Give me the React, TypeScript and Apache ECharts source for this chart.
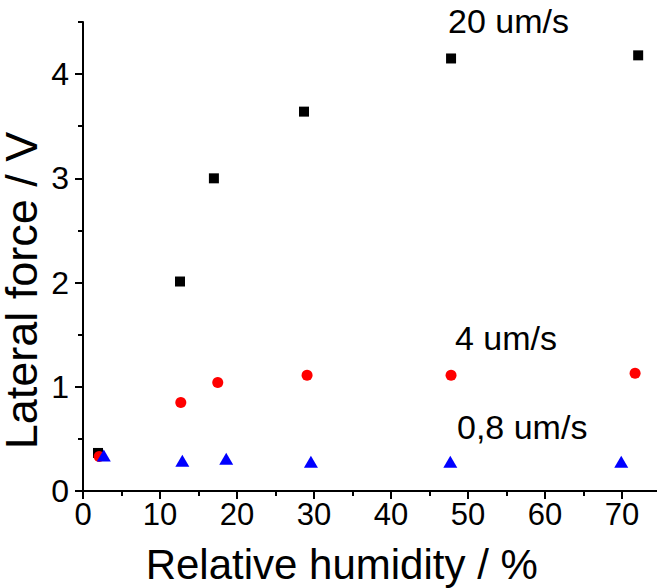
import React, { useEffect, useRef } from "react";
import * as echarts from "echarts";

const speed20X = [1.95, 12.6, 17.0, 28.7, 47.8, 72.1];
const speed20Y = [0.365, 2.01, 3.0, 3.64, 4.15, 4.18];
const speed4X = [2.1, 12.7, 17.5, 29.1, 47.8, 71.7];
const speed4Y = [0.33, 0.85, 1.04, 1.11, 1.11, 1.13];
const speed08X = [2.7, 12.9, 18.6, 29.6, 47.7, 69.9];
const speed08Y = [0.34, 0.29, 0.31, 0.28, 0.28, 0.28];
const seriesNames = ["20 um/s", "4 um/s", "0,8 um/s"];

const FONT = "'Liberation Sans', Arial, sans-serif";

export default function App() {
  const ref = useRef<HTMLDivElement>(null);
  useEffect(() => {
    if (!ref.current) return;
    const chart = echarts.init(ref.current, null, { renderer: "svg" });
    const zip = (xs: number[], ys: number[]) => xs.map((x, i) => [x, ys[i]]);
    const gLeft = 83;
    const gTop = 22;
    const gW = 577.5;
    const gH = 469;
    const majorTop = gTop + gH * (0.5 / 4.5);
    chart.setOption({
      animation: false,
      grid: [
        { left: gLeft, top: gTop, width: gW, height: gH, outerBoundsMode: "none", containLabel: false },
        {
          left: gLeft,
          top: majorTop,
          width: gW,
          height: gTop + gH - majorTop,
          outerBoundsMode: "none",
          containLabel: false,
        },
      ],
      xAxis: [
        {
          type: "value",
          gridIndex: 0,
          min: 0,
          max: 75,
          interval: 10,
          position: "bottom",
          name: "Relative humidity / %",
          nameLocation: "middle",
          nameGap: 52,
          nameTextStyle: { fontSize: 42, color: "#000", fontFamily: FONT, padding: [0, 60, 0, 0] },
          axisLine: { show: true, lineStyle: { color: "#000", width: 2 } },
          axisTick: { show: true, inside: false, length: 8, lineStyle: { color: "#000", width: 2 } },
          axisLabel: {
            fontSize: 31,
            color: "#000",
            fontFamily: FONT,
            margin: 8,
            formatter: (v: number) => (v % 10 === 0 ? String(v) : ""),
          },
          splitLine: { show: false },
        },
        {
          type: "value",
          gridIndex: 0,
          min: 0,
          max: 75,
          interval: 5,
          position: "bottom",
          axisLine: { show: false },
          axisTick: { show: true, inside: false, length: 5, lineStyle: { color: "#000", width: 2 } },
          axisLabel: { show: false },
          splitLine: { show: false },
        },
        { type: "value", gridIndex: 1, min: 0, max: 75, show: false },
      ],
      yAxis: [
        {
          type: "value",
          gridIndex: 0,
          min: 0,
          max: 4.5,
          interval: 0.5,
          name: "Lateral force / V",
          nameLocation: "middle",
          nameGap: 43,
          nameTextStyle: {
            fontSize: 45,
            lineHeight: 38,
            color: "#000",
            fontFamily: FONT,
            padding: [0, 68, 0, 0],
          },
          axisLine: { show: true, lineStyle: { color: "#000", width: 2 } },
          axisTick: { show: true, inside: false, length: 5, lineStyle: { color: "#000", width: 2 } },
          axisLabel: { show: false },
          splitLine: { show: false },
        },
        {
          type: "value",
          gridIndex: 1,
          min: 0,
          max: 4,
          interval: 1,
          axisLine: { show: false },
          axisTick: { show: true, inside: false, length: 8, lineStyle: { color: "#000", width: 2 } },
          axisLabel: { fontSize: 32, color: "#000", fontFamily: FONT, margin: 14 },
          splitLine: { show: false },
        },
      ],
      series: [
        {
          name: seriesNames[0],
          type: "scatter",
          xAxisIndex: 0,
          yAxisIndex: 0,
          symbol: "rect",
          symbolSize: 10,
          itemStyle: { color: "#000", opacity: 1 },
          data: zip(speed20X, speed20Y),
        },
        {
          name: seriesNames[1],
          type: "scatter",
          xAxisIndex: 0,
          yAxisIndex: 0,
          symbol: "circle",
          symbolSize: 11,
          itemStyle: { color: "#ff0000", opacity: 1 },
          data: zip(speed4X, speed4Y),
        },
        {
          name: seriesNames[2],
          type: "scatter",
          xAxisIndex: 0,
          yAxisIndex: 0,
          symbol: "triangle",
          symbolSize: [14, 12],
          itemStyle: { color: "#0000ff", opacity: 1 },
          data: zip(speed08X, speed08Y),
        },
      ],
      graphic: [
        {
          type: "text",
          left: 448,
          top: 4,
          style: { text: seriesNames[0], font: `34px ${FONT}`, fill: "#000" },
        },
        {
          type: "text",
          left: 455,
          top: 321,
          style: { text: seriesNames[1], font: `34px ${FONT}`, fill: "#000" },
        },
        {
          type: "text",
          left: 457,
          top: 410,
          style: { text: seriesNames[2], font: `34px ${FONT}`, fill: "#000" },
        },
      ],
    });
    return () => chart.dispose();
  }, []);
  return (
    <div
      ref={ref}
      style={{ position: "absolute", left: 0, top: 0, width: 657, height: 588, background: "#fff" }}
    />
  );
}
